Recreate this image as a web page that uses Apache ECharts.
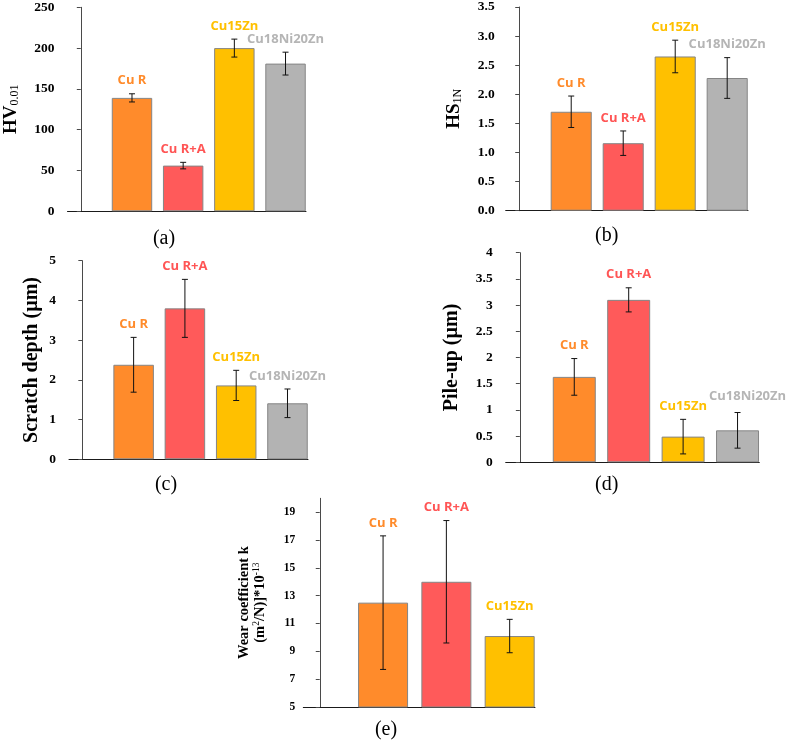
<!DOCTYPE html>
<html>
<head>
<meta charset="utf-8">
<script src="https://cdn.jsdelivr.net/npm/echarts@6/dist/echarts.min.js"></script>
<style>html,body{margin:0;padding:0;background:#fff}#c{width:789px;height:744px}</style>
</head>
<body>
<div id="c"></div>
<script>
// ---- data ----
const categories = ['Cu R', 'Cu R+A', 'Cu15Zn', 'Cu18Ni20Zn'];
const wearCategories = ['Cu R', 'Cu R+A', 'Cu15Zn'];
const hvMean = [139, 56, 200, 181];
const hvErr = [5, 4, 11, 14];
const hsMean = [1.70, 1.16, 2.65, 2.28];
const hsErr = [0.27, 0.21, 0.28, 0.35];
const scratchMean = [2.38, 3.80, 1.86, 1.41];
const scratchErr = [0.69, 0.73, 0.38, 0.36];
const pileMean = [1.63, 3.10, 0.49, 0.61];
const pileErr = [0.35, 0.23, 0.33, 0.34];
const wearMean = [12.5, 14.0, 10.1];
const wearErr = [4.8, 4.4, 1.2];
const panelLabels = ['(a)', '(b)', '(c)', '(d)', '(e)'];

// ---- styles ----
const barColors = ['#FF8B2B', '#FF5A5A', '#FFC000', '#B3B3B3'];
const labelColors = ['#FF8B2B', '#FF5555', '#FFC000', '#B5B5B5'];
const serif = 'Liberation Serif';

const panels = [
  {cats: categories, mean: hvMean, err: hvErr, grid: {left: 67.5, top: 7.3, width: 238.5, height: 204},
   y: {min: 0, max: 250, interval: 50, fmt: v => String(v), fs: 13.5, margin: 13},
   name: '{m|HV}{s|0.01}', nameGap: 47},
  {cats: categories, mean: hsMean, err: hsErr, grid: {left: 505.7, top: 6.7, width: 242.3, height: 204},
   y: {min: 0, max: 3.5, interval: 0.5, fmt: v => v.toFixed(1), fs: 13.5, margin: 11},
   name: '{m|HS}{s|1N}', nameGap: 42},
  {cats: categories, mean: scratchMean, err: scratchErr, grid: {left: 69, top: 260.7, width: 239, height: 198.6},
   y: {min: 0, max: 5, interval: 1, fmt: v => String(v), fs: 13.5, margin: 13},
   name: '{l|Scratch depth (µm)}', nameGap: 26},
  {cats: categories, mean: pileMean, err: pileErr, grid: {left: 505.7, top: 252.7, width: 253.6, height: 209.6},
   y: {min: 0, max: 4, interval: 0.5, fmt: v => String(v), fs: 13.5, margin: 13},
   name: '{l|Pile-up (µm)}', nameGap: 43, labelShift: [[0, 0], [0, -1], [0, 0], [10, -3]]},
  {cats: wearCategories, mean: wearMean, err: wearErr, grid: {left: 303.3, top: 498.3, width: 231.7, height: 208.7},
   y: {min: 5, max: 20, interval: 2, fmt: v => String(v), fs: 11.5, margin: 8, hideMax: true},
   name: '{w|Wear coefficient k}\n{w|(m}{sup|2}{w|/N)]*10}{sup|-13}', nameGap: 36}
];
const panelLabelPos = [[164, 239], [606.7, 235.5], [166, 485], [606.7, 485], [386, 730]];

const grids = [], xAxes = [], yAxes = [], series = [], graphics = [];

panels.forEach((p, k) => {
  const n = p.cats.length;
  const xmin = -0.26, xmax = n + 0.4;
  grids.push(Object.assign({containLabel: false}, p.grid));
  xAxes.push({
    type: 'value', gridIndex: k, min: xmin, max: xmax,
    axisLine: {show: true, onZero: false, lineStyle: {color: '#1a1a1a', width: 1}},
    axisTick: {show: false}, axisLabel: {show: false}, splitLine: {show: false}
  });
  yAxes.push({
    type: 'value', gridIndex: k, min: p.y.min, max: p.y.max, interval: p.y.interval,
    axisLine: {show: true, lineStyle: {color: '#4a4a4a', width: 1}},
    axisTick: {show: true, inside: false, length: 4, lineStyle: {color: '#4a4a4a'}},
    splitLine: {show: false},
    axisLabel: {
      formatter: p.y.fmt, fontFamily: serif, fontWeight: 'bold', fontSize: p.y.fs,
      color: '#000', margin: p.y.margin, showMaxLabel: p.y.hideMax ? false : true
    },
    name: p.name, nameLocation: 'middle', nameRotate: 90, nameGap: p.nameGap,
    nameTextStyle: {
      color: '#000',
      rich: {
        m: {fontFamily: serif, fontWeight: 'bold', fontSize: 19, color: '#000', verticalAlign: 'bottom', lineHeight: 22},
        s: {fontFamily: serif, fontWeight: 'normal', fontSize: 12, color: '#000', verticalAlign: 'bottom', lineHeight: 18},
        l: {fontFamily: serif, fontWeight: 'bold', fontSize: 20, color: '#000', lineHeight: 22},
        w: {fontFamily: serif, fontWeight: 'bold', fontSize: 14.5, color: '#000', lineHeight: 16, verticalAlign: 'bottom'},
        sup: {fontFamily: serif, fontWeight: 'normal', fontSize: 9.5, color: '#000', lineHeight: 16, verticalAlign: 'top'}
      }
    }
  });
  const span = p.grid.width / (xmax - xmin);
  const shift = p.labelShift || p.cats.map(() => [0, 0]);
  series.push({
    type: 'bar', xAxisIndex: k, yAxisIndex: k, z: 2,
    barWidth: span * 0.79,
    data: p.cats.map((c, i) => ({value: [i + 1, p.mean[i]], itemStyle: {color: barColors[i]}})),
    itemStyle: {borderColor: '#858585', borderWidth: 1},
    emphasis: {disabled: true}, silent: true
  });
  series.push({
    type: 'custom', xAxisIndex: k, yAxisIndex: k, silent: true, z: 10,
    data: p.cats.map((c, i) => [i + 1, p.mean[i], p.err[i], i]),
    renderItem: (params, api) => {
      const x = api.value(0), y = api.value(1), e = api.value(2), i = api.value(3);
      const t = api.coord([x, y + e]), b = api.coord([x, y - e]);
      const cap = 3;
      const st = {stroke: '#111', lineWidth: 1};
      return {type: 'group', children: [
        {type: 'line', shape: {x1: t[0], y1: t[1], x2: b[0], y2: b[1]}, style: st},
        {type: 'line', shape: {x1: t[0] - cap, y1: t[1], x2: t[0] + cap, y2: t[1]}, style: st},
        {type: 'line', shape: {x1: b[0] - cap, y1: b[1], x2: b[0] + cap, y2: b[1]}, style: st},
        {type: 'text', x: t[0] + shift[i][0], y: t[1] - 13 + shift[i][1], style: {
          text: p.cats[i], fill: labelColors[i], font: 'bold 13px "Open Sans"', align: 'center', verticalAlign: 'middle'}}
      ]};
    }
  });
  graphics.push({
    type: 'text', x: panelLabelPos[k][0], y: panelLabelPos[k][1],
    style: {text: panelLabels[k], font: '20px "Liberation Serif"', fill: '#000', align: 'center', verticalAlign: 'middle'}
  });
});

const chart = echarts.init(document.getElementById('c'), null, {renderer: 'canvas'});
chart.setOption({
  animation: false,
  backgroundColor: '#fff',
  grid: grids, xAxis: xAxes, yAxis: yAxes, series: series,
  graphic: graphics
});
</script>
</body>
</html>
